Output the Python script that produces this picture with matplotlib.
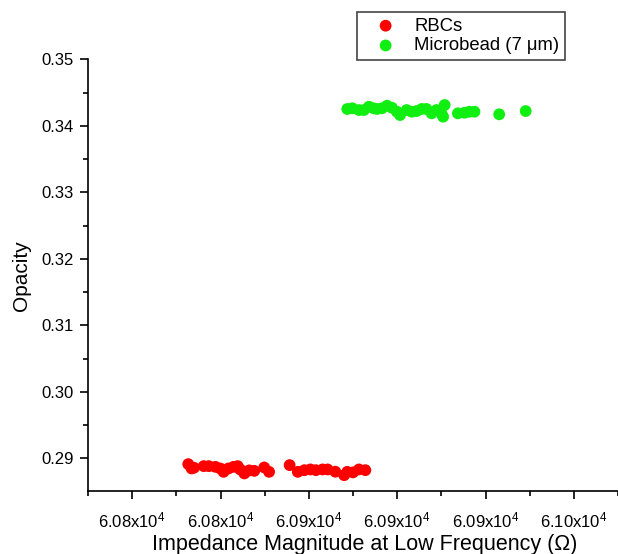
import matplotlib
matplotlib.use("Agg")
import matplotlib.pyplot as plt
from matplotlib.ticker import MultipleLocator, FixedLocator

plt.rcParams['font.family'] = ['Liberation Sans', 'DejaVu Sans']
plt.rcParams['mathtext.fontset'] = 'custom'
plt.rcParams['mathtext.rm'] = 'Liberation Sans'
plt.rcParams['mathtext.it'] = 'Liberation Sans:italic'

# RBC data: impedance magnitude (Ohm), opacity
rbc_x = [60805.4, 60806.9, 60808.0, 60812.4, 60814.7, 60817.7, 60819.9, 60821.4, 60823.6,
         60825.9, 60827.8, 60828.9, 60830.8, 60833.0, 60835.3, 60839.8, 60842.0, 60851.3,
         60855.0, 60858.0, 60860.7, 60863.2, 60866.2, 60868.5, 60872.0, 60876.0, 60877.4,
         60880.0, 60882.7, 60885.6]
rbc_y = [0.28914, 0.28849, 0.28860, 0.28884, 0.28884, 0.28873, 0.28849, 0.28798, 0.28849,
         0.28873, 0.28884, 0.28834, 0.28774, 0.28820, 0.28813, 0.28864, 0.28798, 0.28899,
         0.28798, 0.28823, 0.28834, 0.28823, 0.28834, 0.28834, 0.28800, 0.28748, 0.28798,
         0.28790, 0.28834, 0.28823]

# Microbead data
bead_x = [60877.4, 60879.7, 60882.7, 60884.9, 60887.2, 60889.4, 60890.9, 60893.1, 60895.4,
          60897.6, 60899.9, 60901.3, 60904.3, 60906.6, 60908.8, 60911.1, 60913.3, 60915.6,
          60917.8, 60920.0, 60921.5, 60920.8, 60927.5, 60930.5, 60932.7, 60935.0, 60946.2,
          60958.2]
bead_y = [0.34253, 0.34263, 0.34237, 0.34237, 0.34287, 0.34263, 0.34253, 0.34263, 0.34302,
          0.34272, 0.34212, 0.34162, 0.34237, 0.34212, 0.34222, 0.34253, 0.34253, 0.34188,
          0.34237, 0.34188, 0.34313, 0.34137, 0.34188, 0.34197, 0.34212, 0.34212, 0.34173,
          0.34222]

x_ticks = [60780, 60820, 60860, 60900, 60940, 60980]
x_tick_labels = [r'6.08x10$^{4}$', r'6.08x10$^{4}$', r'6.09x10$^{4}$',
                 r'6.09x10$^{4}$', r'6.09x10$^{4}$', r'6.10x10$^{4}$']
y_ticks = [0.29, 0.30, 0.31, 0.32, 0.33, 0.34, 0.35]

fig = plt.figure(figsize=(6.18, 5.54), dpi=100)
ax = fig.add_axes([88/618, 63/554, 530/618, (491-59.3)/554])

ax.scatter(rbc_x, rbc_y, s=72, color='#ff0000', edgecolors='none', label='RBCs', zorder=3)
ax.scatter(bead_x, bead_y, s=72, color='#11ee11', edgecolors='none', label=r'Microbead (7 μm)', zorder=3)

ax.set_xlim(60760, 61000)
ax.set_ylim(0.2851, 0.35)
ax.xaxis.set_major_locator(FixedLocator(x_ticks))
ax.set_xticklabels(x_tick_labels)
ax.xaxis.set_minor_locator(MultipleLocator(20))
ax.yaxis.set_major_locator(FixedLocator(y_ticks))
ax.set_yticklabels([f'{v:.2f}' for v in y_ticks])
ax.yaxis.set_minor_locator(MultipleLocator(0.005))

for s in ['top', 'right']:
    ax.spines[s].set_visible(False)
for s in ['left', 'bottom']:
    ax.spines[s].set_linewidth(1.2)

ax.tick_params(which='major', direction='out', length=6, width=1.2, labelsize=12, pad=4)
ax.tick_params(which='minor', direction='out', length=3.5, width=1.2)
ax.tick_params(axis='x', which='major', pad=8)

ax.set_xlabel('Impedance Magnitude at Low Frequency (Ω)', fontsize=15.5)
ax.xaxis.set_label_coords((365 - 88) / 530, -0.123)
ax.xaxis.label.set_verticalalignment('center')
ax.set_ylabel('Opacity', fontsize=15, labelpad=8)

leg = fig.legend(loc='upper left', bbox_to_anchor=(357/618, 1 - 12/554), fontsize=13.3,
                 frameon=True, fancybox=False, edgecolor='#444444', framealpha=1,
                 handletextpad=0.3, borderpad=0.3, labelspacing=0.15, handlelength=2.5,
                 borderaxespad=0, markerscale=1.0)
leg.get_frame().set_linewidth(1.2)

fig.savefig('out.png', dpi=100)
